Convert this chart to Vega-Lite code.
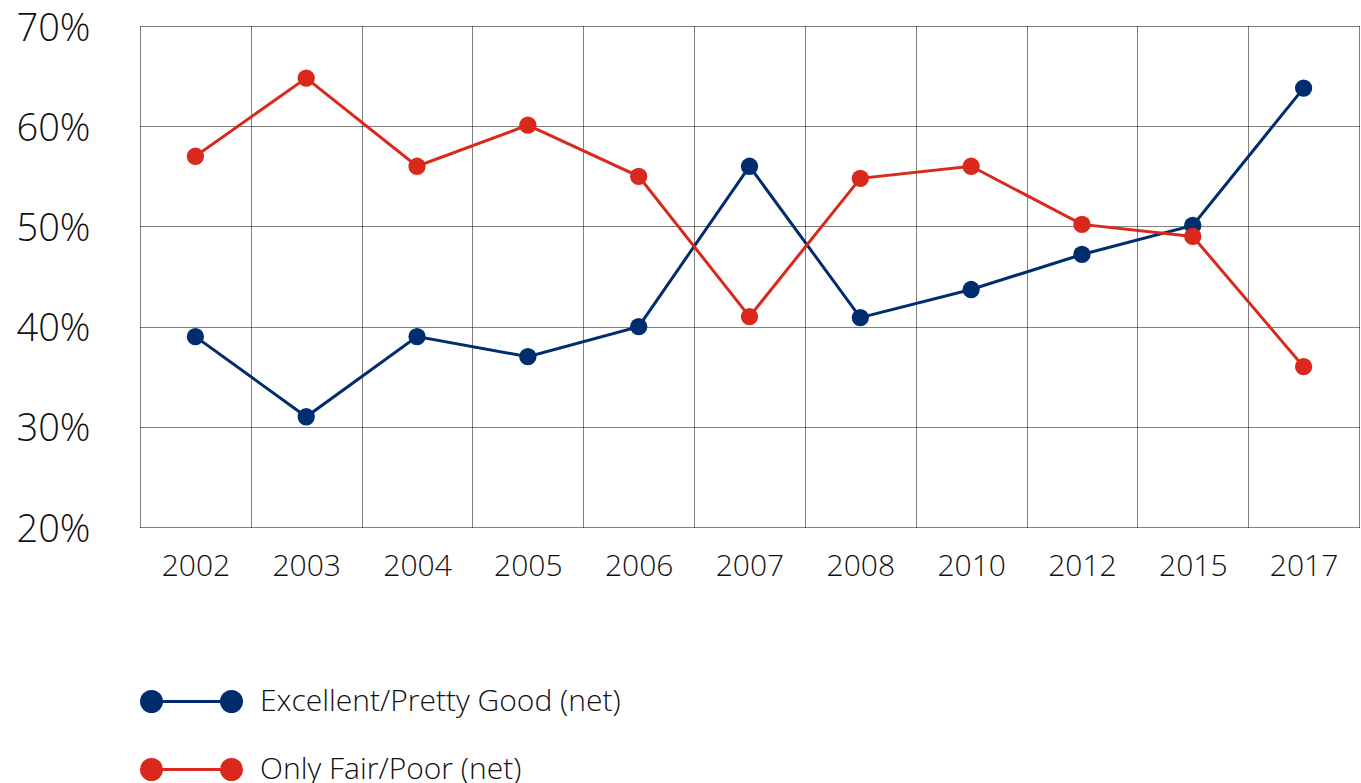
{
  "$schema": "https://vega.github.io/schema/vega-lite/v6.json",
  "width": 1219,
  "height": 501,
  "autosize": "none",
  "padding": {"left": 140, "top": 26, "right": 2, "bottom": 256},
  "data": {
    "values": [
      {"year": "2002", "series": "Excellent/Pretty Good (net)", "value": 39},
      {"year": "2003", "series": "Excellent/Pretty Good (net)", "value": 31},
      {"year": "2004", "series": "Excellent/Pretty Good (net)", "value": 39},
      {"year": "2005", "series": "Excellent/Pretty Good (net)", "value": 37},
      {"year": "2006", "series": "Excellent/Pretty Good (net)", "value": 40},
      {"year": "2007", "series": "Excellent/Pretty Good (net)", "value": 56},
      {"year": "2008", "series": "Excellent/Pretty Good (net)", "value": 40.9},
      {"year": "2010", "series": "Excellent/Pretty Good (net)", "value": 43.7},
      {"year": "2012", "series": "Excellent/Pretty Good (net)", "value": 47.2},
      {"year": "2015", "series": "Excellent/Pretty Good (net)", "value": 50.1},
      {"year": "2017", "series": "Excellent/Pretty Good (net)", "value": 63.8},
      {"year": "2002", "series": "Only Fair/Poor (net)", "value": 57},
      {"year": "2003", "series": "Only Fair/Poor (net)", "value": 64.8},
      {"year": "2004", "series": "Only Fair/Poor (net)", "value": 56},
      {"year": "2005", "series": "Only Fair/Poor (net)", "value": 60.1},
      {"year": "2006", "series": "Only Fair/Poor (net)", "value": 55},
      {"year": "2007", "series": "Only Fair/Poor (net)", "value": 41},
      {"year": "2008", "series": "Only Fair/Poor (net)", "value": 54.8},
      {"year": "2010", "series": "Only Fair/Poor (net)", "value": 56},
      {"year": "2012", "series": "Only Fair/Poor (net)", "value": 50.2},
      {"year": "2015", "series": "Only Fair/Poor (net)", "value": 49},
      {"year": "2017", "series": "Only Fair/Poor (net)", "value": 36}
    ]
  },
  "mark": {
    "type": "line",
    "strokeWidth": 3,
    "point": {"filled": true, "size": 300, "opacity": 1}
  },
  "encoding": {
    "x": {
      "field": "year",
      "type": "ordinal",
      "bandPosition": 0.5,
      "scale": {"type": "band", "paddingInner": 0, "paddingOuter": 0},
      "axis": {
        "title": null,
        "domain": false,
        "ticks": false,
        "tickBand": "extent",
        "grid": true,
        "gridDash": [1, 1],
        "gridColor": "#000000",
        "gridOpacity": 1,
        "labelAngle": 0,
        "labelFontSize": 30,
        "labelFontWeight": 300,
        "labelPadding": 24,
        "labelColor": "#111111"
      }
    },
    "y": {
      "field": "value",
      "type": "quantitative",
      "scale": {"domain": [20, 70], "nice": false, "zero": false},
      "axis": {
        "title": null,
        "values": [20, 30, 40, 50, 60, 70],
        "labelExpr": "datum.value + '%'",
        "domain": false,
        "ticks": false,
        "grid": true,
        "gridDash": [1, 1],
        "gridColor": "#000000",
        "gridOpacity": 1,
        "labelFontSize": 38,
        "labelFontWeight": 300,
        "labelOffset": 3,
        "labelPadding": 50,
        "labelColor": "#111111"
      }
    },
    "color": {
      "field": "series",
      "type": "nominal",
      "scale": {
        "domain": ["Excellent/Pretty Good (net)", "Only Fair/Poor (net)"],
        "range": ["#002D6E", "#DA291C"]
      },
      "legend": {
        "title": null,
        "orient": "none",
        "legendX": 0,
        "legendY": 624,
        "padding": 0,
        "symbolType": "M-1,0A0.2,0.2,0,1,1,-0.6,0A0.2,0.2,0,1,1,-1,0Z M0.6,0A0.2,0.2,0,1,1,1,0A0.2,0.2,0,1,1,0.6,0Z M-0.8,0L0.8,0",
        "symbolSize": 10000,
        "symbolStrokeWidth": 3,
        "symbolOffset": 0,
        "labelOffset": 17,
        "labelFontSize": 30,
        "labelFontWeight": 300,
        "labelLimit": 800,
        "labelColor": "#111111",
        "rowPadding": -42,
        "encode": {
          "symbols": {
            "update": {
              "stroke": {"scale": "color", "field": "value"},
              "fill": {"scale": "color", "field": "value"},
              "opacity": {"value": 1}
            }
          }
        }
      }
    }
  },
  "config": {
    "view": {"stroke": null},
    "font": "Open Sans"
  }
}
